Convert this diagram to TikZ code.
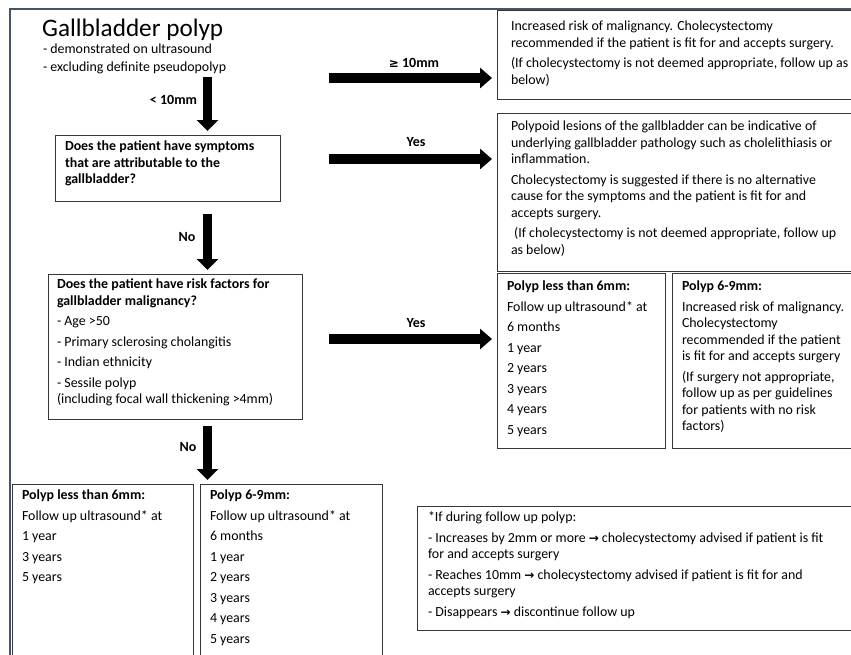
\documentclass[tikz,border=0pt]{standalone}
\usepackage{fontspec}
\setmainfont{Carlito}
\newfontfamily\symf{DejaVu Sans}
\usetikzlibrary{arrows.meta}
\definecolor{framecol}{RGB}{70,84,106}
\definecolor{boxgray}{RGB}{55,55,55}
\newcommand\pgap{\\[4pt]}
\begin{document}
\begin{tikzpicture}[x=1pt,y=-1pt,
  box/.style={draw=boxgray, line width=1.4pt, inner sep=0pt, anchor=north west},
  txt/.style={anchor=north west, inner sep=0pt, outer sep=0pt, align=left, yshift=12pt,
    execute at begin node={\rule{0pt}{12pt}}, font=\fontsize{13.9}{16.5}\selectfont},
  lbl/.style={inner sep=0pt, font=\fontsize{14}{15}\selectfont\bfseries},
  harrow/.style={line width=10pt, -{Triangle[width=20pt,length=12pt]}, shorten >=5pt},
  varrow/.style={line width=9pt, -{Triangle[width=21pt,length=11pt]}, shorten >=4pt}]
\useasboundingbox (0,0) rectangle (851,654);
\clip (0,0) rectangle (851,654);
% outer frame
\draw[framecol, line width=2.5pt] (10,700) -- (10,9) -- (900,9);
% title
\node[anchor=base west, inner sep=0pt, font=\fontsize{25.2}{28}\selectfont] (title) at (42,36) {Gallbladder polyp};
\node[txt] (sub) at (43,56) {- demonstrated on ultrasound\\[1pt]- excluding definite pseudopolyp};
% boxes
\node[box, minimum width=363pt, minimum height=89pt] (b1) at (497,10) {};
\node[box, minimum width=363pt, minimum height=158pt] (b2) at (497,113) {};
\node[box, minimum width=168pt, minimum height=175pt] (b3) at (497,273) {};
\node[box, minimum width=190pt, minimum height=175pt] (b4) at (672,273) {};
\node[box, minimum width=225pt, minimum height=66pt] (q1) at (55,135) {};
\node[box, minimum width=254pt, minimum height=145pt] (q2) at (48,274) {};
\node[box, minimum width=181pt, minimum height=200pt] (c1) at (12,484) {};
\node[box, minimum width=182pt, minimum height=200pt] (c2) at (200,484) {};
\node[box, minimum width=450pt, minimum height=124pt] (fn) at (417,506) {};
% texts
\node[txt] (t1) at (511,33) {Increased risk of malignancy. Cholecystectomy\\
recommended if the patient is fit for and accepts surgery.\pgap
(If cholecystectomy is not deemed appropriate, follow up as\\
below)};
\node[txt] (t2) at (511,133) {Polypoid lesions of the gallbladder can be indicative of\\
underlying gallbladder pathology such as cholelithiasis or\\
inflammation.\pgap
Cholecystectomy is suggested if there is no alternative\\
cause for the symptoms and the patient is fit for and\\
accepts surgery.\pgap
\ (If cholecystectomy is not deemed appropriate, follow up\\
as below)};
\node[txt] (t3) at (507,293) {\textbf{Polyp less than 6mm:}\pgap
Follow up ultrasound* at\pgap 6 months\pgap 1 year\pgap 2 years\pgap 3 years\pgap 4 years\pgap 5 years};
\node[txt] (t4) at (682,293) {\textbf{Polyp 6-9mm:}\pgap
Increased risk of malignancy.\\
Cholecystectomy\\
recommended if the patient\\
is fit for and accepts surgery\pgap
(If surgery not appropriate,\\
follow up as per guidelines\\
for patients with no risk\\
factors)};
\node[txt, font=\fontsize{13.9}{16.5}\selectfont\bfseries] (tq1) at (65,153) {Does the patient have symptoms\\
that are attributable to the\\
gallbladder?};
\node[txt] (tq2) at (57,291) {\textbf{Does the patient have risk factors for}\\
\textbf{gallbladder malignancy?}\pgap
- Age >50\pgap
- Primary sclerosing cholangitis\pgap
- Indian ethnicity\pgap
- Sessile polyp\\
(including focal wall thickening >4mm)};
\node[txt] (tc1) at (22,502) {\textbf{Polyp less than 6mm:}\pgap
Follow up ultrasound* at\pgap 1 year\pgap 3 years\pgap 5 years};
\node[txt] (tc2) at (210,502) {\textbf{Polyp 6-9mm:}\pgap
Follow up ultrasound* at\pgap 6 months\pgap 1 year\pgap 2 years\pgap 3 years\pgap 4 years\pgap 5 years};
\node[txt] (tfn) at (428,524) {*If during follow up polyp:\pgap
- Increases by 2mm or more {\symf\bfseries\fontsize{12}{14}\selectfont →} cholecystectomy advised if patient is fit\\
for and accepts surgery\pgap
- Reaches 10mm {\symf\bfseries\fontsize{12}{14}\selectfont →} cholecystectomy advised if patient is fit for and\\
accepts surgery\pgap
- Disappears {\symf\bfseries\fontsize{12}{14}\selectfont →} discontinue follow up};
% arrows
\coordinate (v1s) at (207.5,77);
\coordinate (v2s) at (207.5,214);
\coordinate (v3s) at (207.5,426);
\coordinate (h1s) at (329,78);
\coordinate (h2s) at (329,159);
\coordinate (h3s) at (329,339);
\draw[varrow] (v1s) -- (v1s |- q1.north);
\draw[varrow] (v2s) -- (v2s |- q2.north);
\draw[varrow] (v3s) -- (v3s |- c2.north);
\draw[harrow] (h1s) -- (h1s -| b1.west);
\draw[harrow] (h2s) -- (h2s -| b2.west);
\draw[harrow] (h3s) -- (h3s -| b3.west);
% labels
\node[lbl] (l1) at (173.5,100) {< 10mm};
\node[lbl] (l2) at (187,237) {No};
\node[lbl] (l3) at (188,447) {No};
\node[lbl] (l4) at (414,63) {{\symf\bfseries\fontsize{12}{13}\selectfont ≥} 10mm};
\node[lbl] (l5) at (416,142) {Yes};
\node[lbl] (l6) at (416,323) {Yes};
\end{tikzpicture}
\end{document}
